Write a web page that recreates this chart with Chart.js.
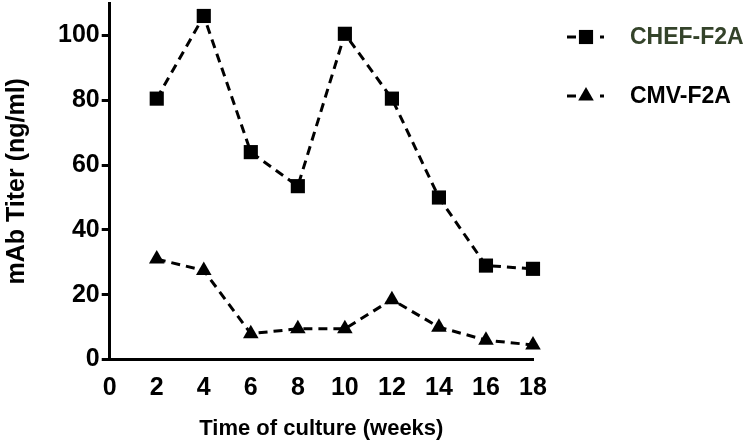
<!DOCTYPE html>
<html><head><meta charset="utf-8">
<script src="https://cdn.jsdelivr.net/npm/chart.js@4"></script>
<style>html,body{margin:0;padding:0;background:#fff}#wrap{width:750px;height:442px}</style>
</head><body><div id="wrap"><canvas id="c" width="750" height="442"></canvas></div>
<script>
const weeks = [2, 4, 6, 8, 10, 12, 14, 16, 18];
const chefF2A = [80.5, 106, 64, 53.5, 100.5, 80.5, 50, 29, 28];
const cmvF2A = [31, 27.5, 8, 9.5, 9.5, 18.5, 10, 6, 4.5];
const seriesLabels = ['CHEF-F2A', 'CMV-F2A'];
const legendColors = ['#34432a', '#000000'];
const xTitle = 'Time of culture (weeks)';
const yTitle = 'mAb Titer (ng/ml)';

const FONT = '"Liberation Sans", Arial, sans-serif';

const legendPlugin = {
  id: 'sideLegend',
  afterDraw(chart) {
    const ctx = chart.ctx;
    const rows = [37, 96];
    chart.data.datasets.forEach((ds, i) => {
      const y = rows[i];
      ctx.save();
      ctx.strokeStyle = '#000';
      ctx.lineWidth = 3;
      ctx.setLineDash([]);
      ctx.beginPath(); ctx.moveTo(567, y); ctx.lineTo(576, y); ctx.stroke();
      ctx.fillStyle = '#000';
      ctx.fillRect(600, y - 1.5, 4, 3);
      Chart.helpers.drawPoint(ctx, {pointStyle: ds.pointStyle, rotation: 0, borderWidth: 0, radius: ds.pointRadius}, 586, y);
      ctx.font = 'bold 23px ' + FONT;
      ctx.fillStyle = legendColors[i];
      ctx.textBaseline = 'middle';
      ctx.fillText(ds.label, 630, y + 1);
      ctx.restore();
    });
  }
};

new Chart(document.getElementById('c'), {
  type: 'line',
  data: {
    datasets: [
      { label: seriesLabels[0], data: weeks.map((w, i) => ({x: w, y: chefF2A[i]})),
        borderColor: '#000', backgroundColor: '#000', borderWidth: 3, borderDash: [9, 6],
        pointStyle: 'rect', pointRadius: 10, pointHoverRadius: 10, pointBorderWidth: 0, tension: 0, clip: false },
      { label: seriesLabels[1], data: weeks.map((w, i) => ({x: w, y: cmvF2A[i]})),
        borderColor: '#000', backgroundColor: '#000', borderWidth: 3, borderDash: [9, 6],
        pointStyle: 'triangle', pointRadius: 9, pointHoverRadius: 9, pointBorderWidth: 0, tension: 0, clip: false }
    ]
  },
  options: {
    responsive: false, animation: false, devicePixelRatio: 1,
    layout: { autoPadding: false, padding: { left: 2, right: 217, top: 3, bottom: 0 } },
    plugins: { legend: { display: false }, tooltip: { enabled: false } },
    scales: {
      x: {
        type: 'linear', min: 0, max: 18,
        ticks: { stepSize: 2, color: '#000', font: { family: FONT, size: 25, weight: 'bold' }, padding: 6, maxRotation: 0 },
        grid: { display: false, drawOnChartArea: false, drawTicks: true, tickLength: 8, tickWidth: 3, tickColor: '#000' },
        border: { display: true, color: '#000', width: 3 },
        title: { display: true, text: xTitle, color: '#000', font: { family: FONT, size: 22, weight: 'bold' }, padding: { top: 6, bottom: 0 } }
      },
      y: {
        type: 'linear', min: 0, max: 110,
        afterBuildTicks: s => { s.ticks = s.ticks.filter(t => t.value <= 100); },
        afterFit: s => { s.paddingTop = 0; },
        ticks: { stepSize: 20, color: '#000', font: { family: FONT, size: 25, weight: 'bold' }, padding: 2 },
        grid: { display: true, drawOnChartArea: false, drawTicks: true, tickLength: 8, tickWidth: 3, tickColor: '#000' },
        border: { display: true, color: '#000', width: 3 },
        title: { display: true, text: yTitle, color: '#000', font: { family: FONT, size: 25, weight: 'bold' }, padding: { top: 0, bottom: 24 } }
      }
    }
  },
  plugins: [legendPlugin]
});
</script>
</body></html>
